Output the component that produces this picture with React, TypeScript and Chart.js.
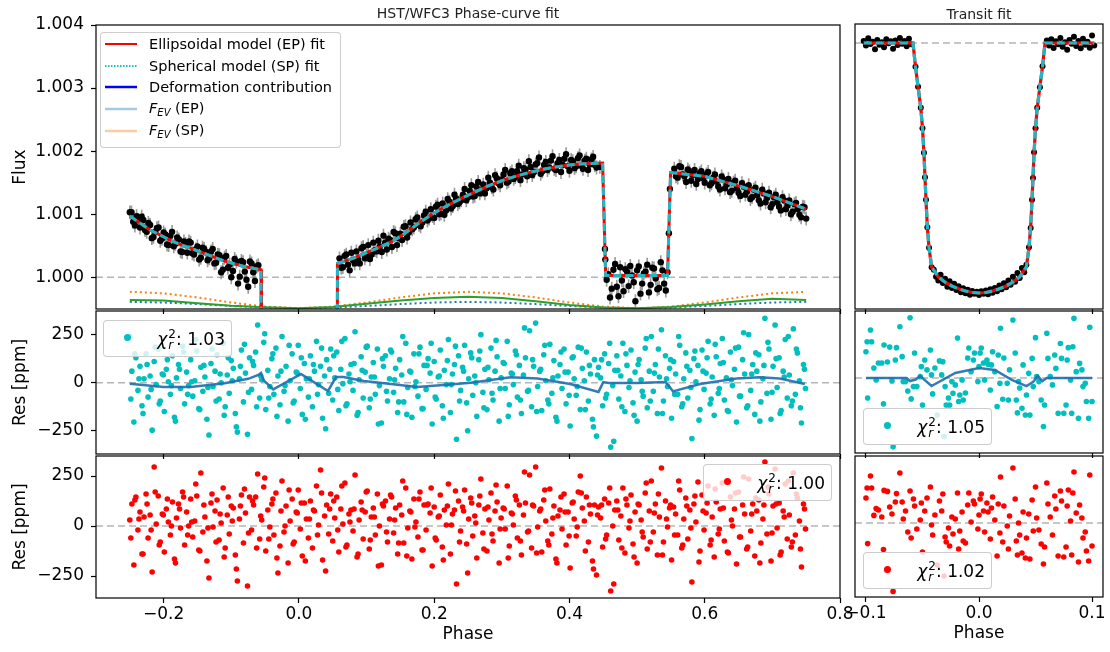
import React, { useEffect, useRef } from "react";
import { Chart, registerables } from "chart.js";
Chart.register(...registerables);

const W = 1110;
const H = 652;
const FONT = "'DejaVu Sans', Verdana, sans-serif";

// ---------- Top-left: phase-curve flux ----------
const FLUX_PHASE = [
  -0.25, -0.245, -0.24, -0.235, -0.23, -0.225, -0.22, -0.215, -0.21, -0.205,
  -0.2, -0.195, -0.19, -0.185, -0.18, -0.175, -0.17, -0.165, -0.16, -0.155,
  -0.15, -0.145, -0.14, -0.135, -0.13, -0.125, -0.12, -0.115, -0.11, -0.105,
  -0.1, -0.095, -0.09, -0.085, -0.08, -0.075, -0.07, -0.065, -0.06,
  0.06, 0.065, 0.07, 0.075, 0.08, 0.085, 0.09, 0.095, 0.1, 0.105,
  0.11, 0.115, 0.12, 0.125, 0.13, 0.135, 0.14, 0.145, 0.15, 0.155,
  0.16, 0.165, 0.17, 0.175, 0.18, 0.185, 0.19, 0.195, 0.2, 0.205,
  0.21, 0.215, 0.22, 0.225, 0.23, 0.235, 0.24, 0.245, 0.25, 0.255,
  0.26, 0.265, 0.27, 0.275, 0.28, 0.285, 0.29, 0.295, 0.3, 0.305,
  0.31, 0.315, 0.32, 0.325, 0.33, 0.335, 0.34, 0.345, 0.35, 0.355,
  0.36, 0.365, 0.37, 0.375, 0.38, 0.385, 0.39, 0.395, 0.4, 0.405,
  0.41, 0.415, 0.42, 0.425, 0.43, 0.435, 0.44,
  0.445, 0.4525, 0.453,
  0.455, 0.46, 0.465, 0.47, 0.475, 0.48, 0.485, 0.49, 0.495, 0.5,
  0.505, 0.51, 0.515, 0.52, 0.525, 0.53, 0.535, 0.54, 0.545,
  0.547, 0.5485,
  0.555, 0.56, 0.565, 0.57, 0.575, 0.58, 0.585, 0.59, 0.595, 0.6,
  0.605, 0.61, 0.615, 0.62, 0.625, 0.63, 0.635, 0.64, 0.645, 0.65,
  0.655, 0.66, 0.665, 0.67, 0.675, 0.68, 0.685, 0.69, 0.695, 0.7,
  0.705, 0.71, 0.715, 0.72, 0.725, 0.73, 0.735, 0.74, 0.745, 0.75,
  -0.2475, -0.2425, -0.2375, -0.2325, -0.2275, -0.2225, -0.2175, -0.2125, -0.2075, -0.2025,
  -0.1975, -0.1925, -0.1875, -0.1825, -0.1775, -0.1725, -0.1675, -0.1625, -0.1575, -0.1525,
  -0.1475, -0.1425, -0.1375, -0.1325, -0.1275, -0.1225, -0.1175, -0.1125, -0.1075, -0.1025,
  -0.0975, -0.0925, -0.0875, -0.0825, -0.0775, -0.0725, -0.0675, -0.0625,
  0.0625, 0.0675, 0.0725, 0.0775, 0.0825, 0.0875, 0.0925, 0.0975, 0.1025, 0.1075,
  0.1125, 0.1175, 0.1225, 0.1275, 0.1325, 0.1375, 0.1425, 0.1475, 0.1525, 0.1575,
  0.1625, 0.1675, 0.1725, 0.1775, 0.1825, 0.1875, 0.1925, 0.1975, 0.2025, 0.2075,
  0.2125, 0.2175, 0.2225, 0.2275, 0.2325, 0.2375, 0.2425, 0.2475, 0.2525, 0.2575,
  0.2625, 0.2675, 0.2725, 0.2775, 0.2825, 0.2875, 0.2925, 0.2975, 0.3025, 0.3075,
  0.3125, 0.3175, 0.3225, 0.3275, 0.3325, 0.3375, 0.3425, 0.3475, 0.3525, 0.3575,
  0.3625, 0.3675, 0.3725, 0.3775, 0.3825, 0.3875, 0.3925, 0.3975, 0.4025, 0.4075,
  0.4125, 0.4175, 0.4225, 0.4275, 0.4325, 0.4375,
  0.4575, 0.4625, 0.4675, 0.4725, 0.4775, 0.4825, 0.4875, 0.4925, 0.4975, 0.5025,
  0.5075, 0.5125, 0.5175, 0.5225, 0.5275, 0.5325, 0.5375, 0.5425,
  0.5575, 0.5625, 0.5675, 0.5725, 0.5775, 0.5825, 0.5875, 0.5925, 0.5975, 0.6025,
  0.6075, 0.6125, 0.6175, 0.6225, 0.6275, 0.6325, 0.6375, 0.6425, 0.6475, 0.6525,
  0.6575, 0.6625, 0.6675, 0.6725, 0.6775, 0.6825, 0.6875, 0.6925, 0.6975, 0.7025,
  0.7075, 0.7125, 0.7175, 0.7225, 0.7275, 0.7325, 0.7375, 0.7425, 0.7475,
];
const FLUX = [
  1.00103, 1.00088, 1.00097, 1.00079, 1.00091, 1.00072, 1.00083, 1.00064, 1.00078, 1.00058,
  1.00071, 1.00052, 1.00066, 1.00049, 1.00063, 1.00041, 1.00057, 1.00039, 1.00055, 1.00036,
  1.00049, 1.00031, 1.00045, 1.00027, 1.00041, 1.00022, 1.00036, 1.00008, 1.00031, 1.00015,
  1.0, 1.00029, 0.9999, 1.00026, 1.00009, 0.99985, 1.00022, 0.99994, 1.00019,
  1.0003, 1.00016, 1.00036, 1.00011, 1.00027, 1.00041, 1.00022, 1.00048, 1.00035, 1.00029,
  1.00055, 1.00041, 1.00049, 1.00066, 1.00044, 1.00059, 1.00072, 1.00051, 1.00069, 1.0008,
  1.00063, 1.00087, 1.00079, 1.00095, 1.00081, 1.00098, 1.0009, 1.00108, 1.00094, 1.00115,
  1.00101, 1.00099, 1.00124, 1.00109, 1.00131, 1.00116, 1.00122, 1.0014, 1.00127, 1.00146,
  1.00129, 1.00151, 1.00138, 1.00133, 1.00158, 1.00143, 1.00162, 1.00149, 1.00155, 1.0017,
  1.00152, 1.00168, 1.00159, 1.00177, 1.00163, 1.00171, 1.00184, 1.00162, 1.00179, 1.0019,
  1.00168, 1.00183, 1.00174, 1.00192, 1.0017, 1.00186, 1.00178, 1.00195, 1.00169, 1.00184,
  1.00176, 1.00193, 1.00172, 1.00188, 1.00179, 1.00191, 1.00174,
  1.00175, 1.00045, 1.00028,
  0.99996, 0.99968, 1.00012, 0.99985, 1.00016, 0.99978, 1.00009, 1.00018, 0.99992, 1.00011,
  0.99974, 1.00006, 1.0002, 0.99988, 1.00014, 0.99981, 1.00024, 0.9999, 1.00008,
  1.0007, 1.0014,
  1.00172, 1.00158, 1.00175, 1.0016, 1.00171, 1.00153, 1.0017, 1.00156, 1.00168, 1.0015,
  1.00167, 1.00149, 1.00163, 1.00144, 1.0016, 1.00141, 1.00156, 1.00137, 1.00153, 1.00134,
  1.00149, 1.00131, 1.00146, 1.00127, 1.00142, 1.00122, 1.00139, 1.00119, 1.00134, 1.00116,
  1.00131, 1.00112, 1.00127, 1.00108, 1.00122, 1.00104, 1.00118, 1.00099, 1.00112, 1.00093,
  1.00103, 1.00082, 1.00091, 1.00096, 1.00075, 1.00086, 1.00062, 1.00072, 1.00079, 1.00061,
  1.00068, 1.00051, 1.00072, 1.00053, 1.0006, 1.0004, 1.00053, 1.00057, 1.00038, 1.00044,
  1.00028, 1.00047, 1.0004, 1.0003, 1.00045, 1.00023, 1.00035, 1.00012, 1.00034, 1.0002,
  1.0001, 1.00025, 1.00001, 1.00024, 0.99996, 1.00025, 1.00008, 1.00017,
  1.00015, 1.00034, 1.0002, 1.00039, 1.00022, 1.00028, 1.00046, 1.0003, 1.00051, 1.00036,
  1.00043, 1.00058, 1.0004, 1.00055, 1.00061, 1.00048, 1.0007, 1.00062, 1.00059, 1.00081,
  1.00071, 1.00076, 1.00092, 1.00083, 1.00087, 1.00104, 1.00093, 1.00097, 1.00112, 1.001,
  1.00117, 1.00106, 1.0012, 1.00113, 1.00125, 1.00119, 1.00131, 1.00122, 1.00137, 1.00128,
  1.00144, 1.00133, 1.00147, 1.00141, 1.0015, 1.00139, 1.00157, 1.00146, 1.00163, 1.0015,
  1.00165, 1.00156, 1.00168, 1.00154, 1.00173, 1.0016, 1.00175, 1.00167, 1.00181, 1.00164,
  1.00178, 1.0017, 1.00185, 1.00172, 1.00181, 1.00167, 1.00188, 1.00176, 1.00186, 1.00173,
  1.00189, 1.00177, 1.00185, 1.0017, 1.00187, 1.00178,
  1.00005, 0.99982, 1.00021, 0.9997, 0.99995, 1.00013, 0.99986, 1.00003, 0.99962, 1.00017,
  0.9999, 1.00009, 0.99976, 1.00015, 0.99998, 0.99983, 1.00011, 0.99979,
  1.0016, 1.00176, 1.00163, 1.00151, 1.00168, 1.00162, 1.00148, 1.00165, 1.00157, 1.00163,
  1.00146, 1.00158, 1.00152, 1.00139, 1.00155, 1.00147, 1.00135, 1.0015, 1.00141, 1.00129,
  1.00144, 1.00136, 1.00124, 1.00139, 1.0013, 1.00117, 1.00133, 1.00126, 1.00111, 1.00127,
  1.00119, 1.00106, 1.00122, 1.00114, 1.001, 1.00116, 1.00108, 1.00095, 1.00111,
];
const FLUX_ERR = 0.00011;

const MODEL_PHASE = [
  -0.25, -0.22, -0.185, -0.145, -0.111, -0.081, -0.056, -0.0552, 0.0552, 0.057,
  0.08, 0.1, 0.12, 0.14, 0.16, 0.18, 0.2, 0.22, 0.24, 0.26,
  0.28, 0.3, 0.32, 0.34, 0.36, 0.38, 0.4, 0.42, 0.449, 0.4535,
  0.545, 0.5495, 0.6, 0.65, 0.7, 0.75,
];
const MODEL_EP = [
  1.00097, 1.00075, 1.00056, 1.0004, 1.00026, 1.00017, 1.00012, 0.99, 0.99, 1.00022,
  1.0003, 1.00039, 1.00048, 1.00058, 1.00072, 1.00088, 1.00102, 1.00114, 1.00125, 1.00135,
  1.00145, 1.00153, 1.0016, 1.00166, 1.00171, 1.00175, 1.00178, 1.0018, 1.00181, 1.00003,
  1.00003, 1.00166, 1.0016, 1.00145, 1.00128, 1.00108,
];
const MODEL_SP = [
  1.00097, 1.00075, 1.00056, 1.0004, 1.00026, 1.00017, 1.00012, 0.99, 0.99, 1.00022,
  1.0003, 1.00039, 1.00048, 1.00058, 1.00072, 1.00088, 1.00102, 1.00114, 1.00125, 1.00135,
  1.00145, 1.00153, 1.0016, 1.00166, 1.00171, 1.00175, 1.00178, 1.0018, 1.00181, 1.00003,
  1.00003, 1.00166, 1.0016, 1.00145, 1.00128, 1.00108,
];

const EV_PHASE = [-0.25, -0.2, -0.15, -0.1, -0.05, 0, 0.05, 0.1, 0.15, 0.2, 0.25, 0.3, 0.35, 0.4, 0.45, 0.5, 0.55, 0.6, 0.65, 0.7, 0.75];
const DEFORM = [0.99964, 0.99963, 0.99959, 0.99955, 0.999525, 0.99951, 0.99953, 0.99958, 0.99963, 0.99967, 0.99969, 0.99967, 0.99962, 0.99956, 0.99952, 0.99951, 0.99953, 0.99957, 0.99962, 0.99966, 0.99964];
const FEV_SP = [0.99977, 0.999745, 0.99968, 0.9996, 0.999535, 0.99951, 0.999535, 0.9996, 0.99968, 0.999745, 0.99977, 0.999745, 0.99968, 0.9996, 0.999535, 0.99951, 0.999535, 0.9996, 0.99968, 0.999745, 0.99977];
const FEV_EP = [0.99961, 0.9996, 0.999575, 0.999545, 0.99952, 0.99951, 0.99952, 0.999545, 0.999575, 0.9996, 0.99961, 0.9996, 0.999575, 0.999545, 0.99952, 0.99951, 0.99952, 0.999545, 0.999575, 0.9996, 0.99961];

// ---------- Left residuals ----------
const RES_PHASE = [
  -.25, -.247, -.244, -.241, -.238, -.235, -.232, -.229, -.226, -.223,
  -.22, -.217, -.214, -.211, -.208, -.205, -.202, -.199, -.196, -.193,
  -.19, -.187, -.184, -.181, -.178, -.175, -.172, -.169, -.166, -.163,
  -.16, -.157, -.154, -.151, -.148, -.145, -.142, -.139, -.136, -.133,
  -.13, -.127, -.124, -.121, -.118, -.115, -.112, -.109, -.106, -.103,
  -.1, -.097, -.094, -.091, -.088, -.085, -.082, -.079, -.076, -.073,
  -.07, -.067, -.064, -.061, -.058, -.055, -.052, -.049, -.046, -.043,
  -.04, -.037, -.034, -.031, -.028, -.025, -.022, -.019, -.016, -.013,
  -.01, -.007, -.004, -.001, .002, .005, .008, .011, .014, .017,
  .02, .023, .026, .029, .032, .035, .038, .041, .044, .047,
  .05, .053, .056, .059, .062, .065, .068, .071, .074, .077,
  .08, .083, .086, .089, .092, .095, .098, .101, .104, .107,
  .11, .113, .116, .119, .122, .125, .128, .131, .134, .137,
  .14, .143, .146, .149, .152, .155, .158, .161, .164, .167,
  .17, .173, .176, .179, .182, .185, .188, .191, .194, .197,
  .2, .203, .206, .209, .212, .215, .218, .221, .224, .227,
  .23, .233, .236, .239, .242, .245, .248, .251, .254, .257,
  .26, .263, .266, .269, .272, .275, .278, .281, .284, .287,
  .29, .293, .296, .299, .302, .305, .308, .311, .314, .317,
  .32, .323, .326, .329, .332, .335, .338, .341, .344, .347,
  .35, .353, .356, .359, .362, .365, .368, .371, .374, .377,
  .38, .383, .386, .389, .392, .395, .398, .401, .404, .407,
  .41, .413, .416, .419, .422, .425, .428, .431, .434, .437,
  .44, .443, .446, .449, .452, .455, .458, .461, .464, .467,
  .47, .473, .476, .479, .482, .485, .488, .491, .494, .497,
  .5, .503, .506, .509, .512, .515, .518, .521, .524, .527,
  .53, .533, .536, .539, .542, .545, .548, .551, .554, .557,
  .56, .563, .566, .569, .572, .575, .578, .581, .584, .587,
  .59, .593, .596, .599, .602, .605, .608, .611, .614, .617,
  .62, .623, .626, .629, .632, .635, .638, .641, .644, .647,
  .65, .653, .656, .659, .662, .665, .668, .671, .674, .677,
  .68, .683, .686, .689, .692, .695, .698, .701, .704, .707,
  .71, .713, .716, .719, .722, .725, .728, .731, .734, .737,
  .74, .743, .746, .749,
  -.2485, -.2425, -.2365, -.2305, -.2245, -.2185, -.2125, -.2065, -.2005, -.1945,
  -.1885, -.1825, -.1765, -.1705, -.1645, -.1585, -.1525, -.1465, -.1405, -.1345,
  -.1285, -.1225, -.1165, -.1105, -.1045, -.0985, -.0925, -.0865, -.0805, -.0745,
  -.0685, -.0625, -.0565, -.0505, -.0445, -.0385, -.0325, -.0265, -.0205, -.0145,
  -.0085, -.0025, .0035, .0095, .0155, .0215, .0275, .0335, .0395, .0455,
  .0515, .0575, .0635, .0695, .0755, .0815, .0875, .0935, .0995, .1055,
  .1115, .1175, .1235, .1295, .1355, .1415, .1475, .1535, .1595, .1655,
  .1715, .1775, .1835, .1895, .1955, .2015, .2075, .2135, .2195, .2255,
  .2315, .2375, .2435, .2495, .2555, .2615, .2675, .2735, .2795, .2855,
  .2915, .2975, .3035, .3095, .3155, .3215, .3275, .3335, .3395, .3455,
  .3515, .3575, .3635, .3695, .3755, .3815, .3875, .3935, .3995, .4055,
  .4115, .4175, .4235, .4295, .4355, .4415, .4475, .4535, .4595, .4655,
  .4715, .4775, .4835, .4895, .4955, .5015, .5075, .5135, .5195, .5255,
  .5315, .5375, .5435, .5495, .5555, .5615, .5675, .5735, .5795, .5855,
  .5915, .5975, .6035, .6095, .6155, .6215, .6275, .6335, .6395, .6455,
  .6515, .6575, .6635, .6695, .6755, .6815, .6875, .6935, .6995, .7055,
  .7115, .7175, .7235, .7295, .7355, .7415, .7475,
];
const RES_SP = [
  240, 60, -205, 130, -40, 85, -120, 20, 150, -75,
  35, -247, 110, -10, 175, -95, 45, -150, 70, 5,
  -60, 140, -180, 25, 95, -30, 190, -110, 55, -15,
  120, -70, 10, 165, -135, 80, -45, 30, -190, -272,
  100, -20, 60, 145, -85, 0, 205, -125, 40, -55,
  115, 75, -160, -257, 20, 170, -100, 50, -268, 130,
  -35, 90, 160, 300, -80, 15, 210, -140, 65, -20,
  125, -60, 180, 35, -115, 240, -45, 85, -200, 10,
  150, -95, 55, 195, -30, -165, 100, 20, -75, 140,
  -125, 60, 215, -10, 85, -185, 35, 120, -55, 175,
  -90, 25, 160, -145, 70, -5, 230, -110, 45, 95,
  -40, 265, -170, 15, 135, -80, 55, 190, -130, 30,
  105, -60, 175, -15, -210, 85, 140, -95, 20, 160,
  -50, 75, -155, 120, 40, -100, 205, -25, 60, -180,
  150, 5, -70, 185, -135, 90, -35, 125, 50, -215,
  110, -85, 30, 170, -120, 65, -10, 225, -155, 45,
  95, -294, 140, -40, 80, 195, -105, 20, 155, -65,
  35, -175, 120, 250, -50, 70, -140, 15, 180, -90,
  60, 135, -200, 25, 105, -30, 215, -115, 50, -10,
  165, -75, 90, -160, 40, 130, -45, 270, -125, 85,
  310, -20, 60, -145, 145, 10, -90, 200, -55, 115,
  -180, 35, 95, -30, 175, -110, 55, -225, 130, 20,
  -65, 185, -140, 75, 10, 160, -95, 45, -190, 120,
  -278, 80, 25, -120, 150, -60, 100, -335, -15, 65,
  140, -85, 35, 205, -150, 90, -25, 170, -105, 55,
  -200, 120, 15, -70, 180, -130, 60, 240, -45, 95,
  -160, 30, 275, -95, 140, -20, 75, -185, 110, 45,
  -60, 195, -125, 20, 155, -80, 65, -290, 125, 5,
  90, -140, 170, -35, 50, 215, -110, 30, -170, 135,
  -55, 100, 230, -90, 25, -150, 160, -15, 70, -205,
  185, -70, 120, 45, -130, 250, -40, 95, -165, 60,
  145, -100, 20, 335, -55, 175, -190, 85, 300, -25,
  130, -145, 60, 225, -80, 40, -120, 280, -60, 155,
  10, -210, 95, -30,
  -85, 150, 20, -160, 95, -35, 185, -110, 40, 120,
  -15, -200, 70, 160, -60, 5, 225, -140, 90, -25,
  175, -95, 45, -170, 130, 10, -230, 85, 200, -50,
  110, -125, 35, 255, -80, 150, -175, 60, -15, 195,
  -105, 50, 130, -190, 20, 95, -60, 180, -240, 70,
  140, -35, 215, -120, 5, 100, -155, 65, 185, -85,
  30, -215, 125, -45, 170, 15, -100, 240, -165, 55,
  -20, 150, -135, 90, 205, -75, 35, -185, 115, -10,
  190, -95, 60, -250, 130, 0, 165, -130, 80, -55,
  220, -30, 100, -175, 45, 145, -90, 285, -40, 120,
  -150, 70, 195, -110, 25, -200, 160, 55, -65, 135,
  -20, 180, -140, 90, -230, 40, 120, -80, 205, -305,
  65, -125, 150, 10, -170, 95, -45, 230, -95, 50,
  175, -160, 20, 120, -60, 240, -110, 85, -25, 165,
  -195, 60, 130, -85, 200, -30, 105, -145, 15, 180,
  -70, 260, -120, 45, 155, -200, 90, 210, -50, 125,
  -160, 30, 240, -95, 175, -130, 70,
];
const RES_EP = [
  30, 110, -195, 145, -20, 70, -140, 45, 160, -60,
  55, -230, 295, 10, 150, -80, 60, -130, 85, 20,
  -45, 120, -165, 40, 110, -10, 170, -95, 70, 0,
  135, -55, 25, 150, -120, 265, -30, 45, -175, -260,
  115, -5, 75, 130, -70, 15, 190, -110, 55, -40,
  100, 90, -145, -275, 35, 155, -85, 65, -300, 145,
  -20, 105, 145, 260, -65, 30, 195, -125, 80, -5,
  110, -45, 165, -235, -100, 225, -30, 100, -185, 25,
  135, -80, 70, 180, -15, -150, 115, 35, -60, 125,
  -110, 75, 200, 5, 280, -170, 50, 105, -40, 160,
  -75, 40, 145, -130, 85, 10, 215, -95, 60, 80,
  -25, 255, -155, 30, 120, -65, 70, 175, -115, 45,
  90, -45, 160, 0, -195, 100, 125, -80, 35, 145,
  -35, 90, -140, 105, 55, -85, 190, -10, 75, -165,
  135, 20, -55, 170, -120, 105, -20, 110, 65, -200,
  95, -70, 45, 155, -105, 80, 5, 210, -140, 60,
  80, -290, 125, -25, 95, 180, -90, 35, 140, -50,
  50, -160, 105, 235, -35, 85, -125, 30, 165, -75,
  75, 120, -185, 40, 90, -15, 200, -100, 65, 5,
  150, -60, 105, -145, 55, 115, -30, 255, -110, 100,
  295, -5, 75, -130, 130, 25, -75, 185, -40, 100,
  -165, 50, 80, -15, 160, -95, 70, -210, 115, 35,
  -50, 170, 250, 90, 25, 145, -80, 60, -175, 105,
  -245, 95, 40, -105, 135, -45, 115, -325, 0, 80,
  125, -70, 50, 190, -135, 105, -10, 155, -90, 70,
  -185, 105, 30, -55, 165, -115, 75, 225, -30, 110,
  -145, 45, 290, -80, 125, -5, 90, -170, 95, 60,
  -45, 180, -110, 35, 140, -65, 80, -280, 110, 20,
  220, -125, 155, -20, 65, 200, -95, 45, -155, 120,
  -40, 85, 215, -75, 220, -135, 145, 0, 85, -190,
  170, -55, 105, 60, -115, 235, -25, 110, -150, 75,
  130, -85, 35, 320, -40, 160, -175, 100, 285, -10,
  115, -130, 75, 210, -65, 55, -105, 265, -45, 140,
  25, -205, 110, -15,
  -60, 130, 35, -140, 110, -20, 170, -95, 55, 135,
  0, -185, 85, 145, -45, 20, 210, -125, 105, -10,
  160, -80, 60, -155, 145, 25, -215, 100, 185, -35,
  125, -110, 50, 240, -65, 135, -160, 75, 0, 180,
  -90, 65, 115, -175, 35, 80, -45, 165, -225, 85,
  125, -20, 200, -105, 20, 85, -140, 80, 170, -70,
  45, -200, 110, -30, 155, 30, -85, 225, -150, 70,
  -5, 135, -120, 105, 190, -60, 50, -170, 100, 5,
  175, -80, 75, -235, 115, 15, 150, -115, 95, -40,
  205, -15, 85, -160, 60, 130, -75, 270, -25, 105,
  -135, 85, 180, -95, 40, -185, 145, 70, -50, 120,
  -5, 165, -125, 105, -215, 55, 105, -65, 190, -290,
  80, -110, 135, 25, -155, 110, -30, 215, -80, 65,
  160, -145, 35, 105, -45, 225, -95, 100, -10, 150,
  -180, 75, 115, -70, 185, -15, 90, -130, 30, 165,
  -55, 245, -105, 60, 140, -185, 105, 195, -35, 110,
  -145, 45, 225, -80, 160, -115, 85,
];
const SYS_PHASE = [-0.25, -0.2, -0.16, -0.11, -0.075, -0.06, -0.056, -0.052, -0.038, -0.015, 0.003, 0.018, 0.043, 0.055, 0.066, 0.096, 0.136, 0.175, 0.214, 0.254, 0.313, 0.353, 0.401, 0.443, 0.45, 0.458, 0.5, 0.542, 0.546, 0.553, 0.593, 0.647, 0.681, 0.711, 0.748];
const SYS_SP = [-5, -22, -22, -3, 20, 40, 50, 12, -35, 10, 45, 12, -43, 30, 30, 9, -7, -22, -12, 0, 28, 22, -7, -48, 3, -2, -2, 3, -12, -45, -7, 22, 28, 22, -7];

// ---------- Right: transit ----------
const TRF_PHASE = [
  -0.102, -0.1, -0.098, -0.096, -0.094, -0.092, -0.09, -0.088, -0.086, -0.084, -0.082,
  -0.08, -0.078, -0.076, -0.074, -0.072, -0.07, -0.068, -0.066, -0.064, -0.062, -0.06,
  -0.0562, -0.0539, -0.0515, -0.05, -0.0487, -0.0478, -0.0469, -0.0457, -0.0442, -0.0419,
  -0.04, -0.038, -0.036, -0.034, -0.032, -0.03, -0.028, -0.026, -0.024, -0.022,
  -0.02, -0.018, -0.016, -0.014, -0.012, -0.01, -0.008, -0.006, -0.004, -0.002,
  0, 0.002, 0.004, 0.006, 0.008, 0.01, 0.012, 0.014, 0.016, 0.018,
  0.02, 0.022, 0.024, 0.026, 0.028, 0.03, 0.032, 0.034, 0.036, 0.038, 0.04,
  0.0419, 0.0442, 0.0457, 0.0469, 0.0478, 0.0487, 0.05, 0.0515, 0.0539, 0.0562,
  0.06, 0.062, 0.064, 0.066, 0.068, 0.07, 0.072, 0.074, 0.076, 0.078, 0.08,
  0.082, 0.084, 0.086, 0.088, 0.09, 0.092, 0.094, 0.096, 0.098, 0.1, 0.102,
];
const TRF_FLUX = [
  1.00012, 0.99985, 1.00028, 0.99994, 1.00008, 0.99962, 1.00018, 0.9999, 1.00004, 0.99975, 1.00022,
  0.99998, 1.0001, 0.99966, 1.00015, 0.99988, 1.0003, 0.99995, 1.00012, 0.9998, 1.00025, 0.99992,
  0.99858, 0.99738, 0.99612, 0.99488, 0.99342, 0.99195, 0.9906, 0.98895, 0.98772, 0.98655,
  0.9864, 0.98598, 0.98575, 0.9861, 0.9856, 0.98585, 0.98538, 0.9857, 0.9853, 0.98555,
  0.98518, 0.9854, 0.98505, 0.98528, 0.98498, 0.9852, 0.9849, 0.98512, 0.98495, 0.98508,
  0.98488, 0.9851, 0.98496, 0.98515, 0.98492, 0.98522, 0.98502, 0.9853, 0.9851, 0.98545,
  0.98522, 0.98558, 0.98535, 0.98575, 0.9855, 0.98598, 0.98568, 0.9862, 0.9859, 0.9865, 0.98625,
  0.9867, 0.98775, 0.9889, 0.9906, 0.9919, 0.99345, 0.99488, 0.99612, 0.99735, 0.9986,
  1.00015, 0.99985, 1.00022, 0.9997, 1.0001, 0.99992, 1.0003, 0.99978, 1.00005, 0.9996, 1.00018,
  0.99995, 1.00038, 0.99982, 1.00012, 0.99968, 1.00025, 0.9999, 1.00008, 0.99972, 1.00045, 0.99985,
];
const TM_PHASE = [-0.102, -0.0584, -0.0562, -0.0539, -0.0515, -0.05, -0.0487, -0.0478, -0.0469, -0.0457, -0.0442, -0.0419, -0.036, -0.03, -0.024, -0.018, -0.012, -0.006, 0, 0.006, 0.012, 0.018, 0.024, 0.03, 0.036, 0.0419, 0.0442, 0.0457, 0.0469, 0.0478, 0.0487, 0.05, 0.0515, 0.0539, 0.0562, 0.0584, 0.102];
const TM_EP = [1, 1, 0.99858, 0.99738, 0.9961, 0.9949, 0.9934, 0.99196, 0.99058, 0.98896, 0.9877, 0.98656, 0.98596, 0.98565, 0.98542, 0.98525, 0.98512, 0.98503, 0.985, 0.98503, 0.98512, 0.98525, 0.98542, 0.98565, 0.98596, 0.98656, 0.9877, 0.98896, 0.99058, 0.99196, 0.9934, 0.9949, 0.9961, 0.99738, 0.99858, 1, 1];
const TM_SP = [1, 1, 0.99858, 0.99738, 0.9961, 0.9949, 0.9934, 0.99196, 0.99058, 0.98896, 0.9877, 0.98656, 0.98596, 0.98565, 0.98542, 0.98525, 0.98512, 0.98503, 0.985, 0.98503, 0.98512, 0.98525, 0.98542, 0.98565, 0.98596, 0.98656, 0.9877, 0.98896, 0.99058, 0.99196, 0.9934, 0.9949, 0.9961, 0.99738, 0.99858, 1, 1];

const TR_PHASE = [
  -0.1, -0.099, -0.0985, -0.096, -0.095, -0.093, -0.091, -0.089, -0.086, -0.0845,
  -0.084, -0.082, -0.081, -0.079, -0.077, -0.076, -0.074, -0.073, -0.07, -0.068,
  -0.067, -0.065, -0.063, -0.061, -0.06, -0.058, -0.057, -0.055, -0.052, -0.051,
  -0.05, -0.048, -0.046, -0.043, -0.042, -0.041, -0.039, -0.037, -0.035, -0.033,
  -0.032, -0.031, -0.03, -0.029, -0.027, -0.026, -0.024, -0.023, -0.021, -0.019,
  -0.018, -0.017, -0.015, -0.014, -0.012, -0.01, -0.009, -0.007, -0.005, -0.004,
  -0.001, 0, 0.001, 0.002, 0.004, 0.005, 0.007, 0.008, 0.01, 0.011,
  0.012, 0.014, 0.016, 0.017, 0.0185, 0.019, 0.021, 0.022, 0.025, 0.026,
  0.027, 0.03, 0.032, 0.033, 0.034, 0.035, 0.036, 0.038, 0.039, 0.041,
  0.042, 0.044, 0.045, 0.047, 0.048, 0.05, 0.051, 0.053, 0.055, 0.057,
  0.058, 0.06, 0.061, 0.063, 0.065, 0.067, 0.068, 0.07, 0.072, 0.073,
  0.075, 0.077, 0.078, 0.079, 0.081, 0.082, 0.083, 0.084, 0.086, 0.088,
  0.089, 0.091, 0.092, 0.094, 0.095, 0.097, 0.098, 0.1,
];
const TR_RES_SP = [
  137, 189, -104, 250, 189, 52, -10, 78, 78, -135,
  172, -245, 83, 161, -16, -359, 94, 158, 267, 111,
  -19, -19, -68, 314, -109, -45, 130, -45, 7, 59,
  -141, 94, 42, 146, 16, -83, 52, -193, 89, 16,
  85, -305, -45, -141, -104, -141, -19, -80, -36, 208,
  -123, -89, -10, -115, -78, 104, 156, 33, 94, 130,
  -19, 59, 130, 156, 78, -10, 94, 71, -63, 68,
  137, 33, -149, 120, -28, 259, -111, 104, -28, -115,
  42, 302, 130, -115, -182, -19, -52, -158, 68, -193,
  -89, 24, -193, 102, -45, 210, 7, -19, -115, -253,
  -141, 233, 102, 7, -36, 120, 50, -184, 180, 102,
  -184, -141, 94, 158, -10, -184, 163, 311, 33, -210,
  76, 42, -45, -28, -123, -210, 264, -123,
];
const TR_RES_EP = [
  125, 175, -103, 235, 175, 38, 72, 65, 30, -133,
  163, -237, 158, 80, 45, -342, 105, 147, 250, 105,
  20, 60, -45, 160, -75, 120, 85, -30, 15, 100,
  -145, 60, 125, 180, -10, -60, 40, -210, 110, 60,
  145, -265, -70, -95, -25, -115, 30, -55, 20, 150,
  -130, -40, 55, -90, -100, 90, 150, 5, 110, 95,
  -30, 40, 120, 145, 60, -45, 100, 55, -80, 75,
  130, 15, -165, 95, -50, 230, -95, 85, -15, -130,
  35, 275, 120, -90, -160, 0, -60, -150, 55, -175,
  -75, 45, -180, 115, -40, 180, 25, -35, -105, -205,
  -120, 200, 95, 30, -60, 135, 70, -165, 160, 110,
  -170, -120, 85, 165, 10, -160, 150, 255, 50, -195,
  90, 25, -75, -45, -140, -190, 240, -115,
];
const TR_SYS_PHASE = [-0.1, -0.064, -0.061, -0.056, -0.052, -0.042, -0.021, 0, 0.014, 0.029, 0.042, 0.048, 0.052, 0.056, 0.06, 0.1];
const TR_SYS = [0, 0, -16, -8, 10, -42, 26, 52, 42, -10, -42, -20, 10, -16, 0, 0];

// ---------- Axis ticks / ranges ----------
const X_LEFT_TICKS = [-0.2, 0, 0.2, 0.4, 0.6, 0.8];
const X_RIGHT_TICKS = [-0.1, 0, 0.1];
const FLUX_TICKS = [1.0, 1.001, 1.002, 1.003, 1.004];
const RES_TICKS = [-250, 0, 250];

const TICK_FONT = { family: FONT, size: 17 };
const LABEL_FONT = { family: FONT, size: 17 };

const fmt = (v: number, d: number) => {
  const s = Number(v).toFixed(d);
  return s.startsWith("-") ? "\u2212" + s.slice(1) : s;
};
const pts = (xs: number[], ys: number[]) => xs.map((x, i) => ({ x, y: ys[i] }));

type Box = { l: number; t: number; r: number; b: number };
type Ax = { min: number; max: number; ticks?: number[]; dec?: number; labels?: boolean; title?: string; show?: boolean };

function framePlugin(refY: number | null, err: boolean) {
  return {
    id: "frame",
    beforeDatasetsDraw(chart: any) {
      const { ctx, chartArea: ca, scales } = chart;
      ctx.save();
      ctx.beginPath();
      ctx.rect(ca.left, ca.top, ca.right - ca.left, ca.bottom - ca.top);
      ctx.clip();
      if (refY !== null) {
        const y = scales.y.getPixelForValue(refY);
        ctx.strokeStyle = "#b5b5b5";
        ctx.lineWidth = 1.6;
        ctx.setLineDash([7, 4]);
        ctx.beginPath();
        ctx.moveTo(ca.left, y);
        ctx.lineTo(ca.right, y);
        ctx.stroke();
        ctx.setLineDash([]);
      }
      if (err) {
        ctx.strokeStyle = "rgba(120,120,120,0.75)";
        ctx.lineWidth = 1.6;
        ctx.beginPath();
        FLUX_PHASE.forEach((p, i) => {
          const px = scales.x.getPixelForValue(p);
          ctx.moveTo(px, scales.y.getPixelForValue(FLUX[i] - FLUX_ERR));
          ctx.lineTo(px, scales.y.getPixelForValue(FLUX[i] + FLUX_ERR));
        });
        ctx.stroke();
      }
      ctx.restore();
    },
    afterDraw(chart: any) {
      const { ctx, chartArea: ca } = chart;
      ctx.save();
      ctx.strokeStyle = "#000";
      ctx.lineWidth = 1.2;
      ctx.strokeRect(ca.left, ca.top, ca.right - ca.left, ca.bottom - ca.top);
      ctx.restore();
    },
  };
}

function makeConfig(box: Box, xa: Ax, ya: Ax, datasets: any[], refY: number | null, err = false) {
  const XH = xa.labels ? 50 : 5;
  const YW = ya.show ? box.l - 4 : 0;
  const tickGrid = { drawOnChartArea: false, drawTicks: true, tickLength: 5, tickWidth: 1.2, tickColor: "#000", color: "#000" };
  return {
    type: "scatter",
    data: { datasets },
    options: {
      responsive: false,
      animation: false,
      events: [],
      layout: { autoPadding: false, padding: { left: box.l - YW, top: box.t, right: W - box.r, bottom: H - box.b - XH } },
      plugins: { legend: { display: false }, tooltip: { enabled: false } },
      scales: {
        x: {
          type: "linear",
          min: xa.min,
          max: xa.max,
          afterBuildTicks: (s: any) => { s.ticks = (xa.ticks || []).map((v) => ({ value: v })); },
          afterFit: (s: any) => { s.height = XH; },
          grid: tickGrid,
          border: { display: false },
          ticks: { display: !!xa.labels, font: TICK_FONT, color: "#000", padding: 1, maxRotation: 0, autoSkip: false, callback: (v: number) => fmt(v, xa.dec ?? 1) },
          title: { display: !!xa.title, text: xa.title || "", font: LABEL_FONT, color: "#000", padding: { top: 0, bottom: 3 } },
        },
        y: {
          type: "linear",
          display: !!ya.show,
          min: ya.min,
          max: ya.max,
          afterBuildTicks: (s: any) => { s.ticks = (ya.ticks || []).map((v) => ({ value: v })); },
          afterFit: (s: any) => { s.width = YW; },
          grid: tickGrid,
          border: { display: false },
          ticks: { font: TICK_FONT, color: "#000", padding: 7, autoSkip: false, callback: (v: number) => fmt(v, ya.dec ?? 0) },
          title: { display: !!ya.title, text: ya.title || "", font: LABEL_FONT, color: "#000", padding: { top: 6, bottom: 0 } },
        },
      },
    },
    plugins: [framePlugin(refY, err)],
  };
}

const lineDs = (xs: number[], ys: number[], color: string, width: number, dash: number[] = []) => ({
  data: pts(xs, ys), showLine: true, pointRadius: 0, borderColor: color, borderWidth: width, borderDash: dash, fill: false, tension: 0,
});
const dotDs = (xs: number[], ys: number[], color: string, r: number) => ({
  data: pts(xs, ys), showLine: false, pointRadius: r, pointBackgroundColor: color, pointBorderWidth: 0, pointBorderColor: color,
});

const CYAN = "#00bfbf";
const SPLINE = "#1cb8c4";
const RED = "#ff0000";
const SYSC = "rgba(31,110,175,0.9)";

const LEFT_X = { min: -0.3, max: 0.8, ticks: X_LEFT_TICKS, dec: 1 };
const RIGHT_X = { min: -0.1097, max: 0.1097, ticks: X_RIGHT_TICKS, dec: 1 };

const configs = [
  () => makeConfig({ l: 96, t: 25, r: 840, b: 309 }, LEFT_X, { min: 0.999497, max: 1.004, ticks: FLUX_TICKS, dec: 3, show: true, title: "Flux" }, [
    lineDs(MODEL_PHASE, MODEL_SP, SPLINE, 3, [8, 4]),
    lineDs(MODEL_PHASE, MODEL_EP, RED, 3),
    lineDs(EV_PHASE, DEFORM, "#2ca02c", 2),
    lineDs(EV_PHASE, FEV_SP, "#ff7f0e", 2, [2, 3]),
    lineDs(EV_PHASE, FEV_EP, "#1f77b4", 2, [2, 3]),
    dotDs(FLUX_PHASE, FLUX, "#000", 3.2),
  ], 1.0, true),
  () => makeConfig({ l: 96, t: 311, r: 840, b: 454 }, LEFT_X, { min: -371, max: 373, ticks: RES_TICKS, dec: 0, show: true, title: "Res [ppm]" }, [
    lineDs(SYS_PHASE, SYS_SP, SYSC, 2.5),
    dotDs(RES_PHASE, RES_SP, CYAN, 2.8),
  ], 0),
  () => makeConfig({ l: 96, t: 456, r: 840, b: 598 }, { ...LEFT_X, labels: true, title: "Phase" }, { min: -360, max: 350, ticks: RES_TICKS, dec: 0, show: true, title: "Res [ppm]" }, [
    dotDs(RES_PHASE, RES_EP, RED, 2.8),
  ], 0),
  () => makeConfig({ l: 855, t: 24, r: 1103, b: 309 }, RIGHT_X, { min: 0.98404, max: 1.00114 }, [
    lineDs(TM_PHASE, TM_SP, SPLINE, 3.2, [8, 4]),
    lineDs(TM_PHASE, TM_EP, RED, 3.2),
    dotDs(TRF_PHASE, TRF_FLUX, "#000", 3),
  ], 1.0),
  () => makeConfig({ l: 855, t: 311, r: 1103, b: 453 }, RIGHT_X, { min: -391, max: 349 }, [
    lineDs(TR_SYS_PHASE, TR_SYS, SYSC, 2.5),
    dotDs(TR_PHASE, TR_RES_SP, CYAN, 2.8),
  ], 0),
  () => makeConfig({ l: 855, t: 456, r: 1103, b: 597 }, { ...RIGHT_X, labels: true, title: "Phase" }, { min: -370, max: 335 }, [
    dotDs(TR_PHASE, TR_RES_EP, RED, 2.8),
  ], 0),
];

function ChartCanvas({ make }: { make: () => any }) {
  const ref = useRef<HTMLCanvasElement>(null);
  useEffect(() => {
    const c = new Chart(ref.current as HTMLCanvasElement, make());
    return () => c.destroy();
  }, []);
  return <canvas ref={ref} width={W} height={H} style={{ position: "absolute", left: 0, top: 0, width: W, height: H }} />;
}

const boxStyle = (l: number, t: number, w: number, h: number): React.CSSProperties => ({
  position: "absolute", left: l, top: t, width: w, height: h, boxSizing: "border-box",
  background: "rgba(255,255,255,0.8)", border: "1px solid rgba(200,200,200,0.9)", borderRadius: 4,
  fontFamily: FONT, color: "#000",
});

function Chi({ l, t, color, value }: { l: number; t: number; color: string; value: string }) {
  return (
    <div style={boxStyle(l, t, 129, 37)}>
      <div style={{ position: "absolute", left: 20, top: 13, width: 7, height: 7, borderRadius: "50%", background: color }} />
      <div style={{ position: "absolute", right: 6, top: 0, height: 35, display: "flex", alignItems: "center", fontSize: 17, whiteSpace: "nowrap" }}>
        <span style={{ fontStyle: "italic" }}>χ</span>
        <span style={{ display: "inline-flex", flexDirection: "column", fontSize: 12, lineHeight: "11px", marginLeft: 1, position: "relative", top: 1 }}>
          <span>2</span>
          <span style={{ fontStyle: "italic" }}>r</span>
        </span>
        <span>: {value}</span>
      </div>
    </div>
  );
}

const FEV = (tag: string) => (
  <span>
    <i>F</i>
    <sub style={{ fontSize: 10, fontStyle: "italic", verticalAlign: "-3px" }}>EV</sub> ({tag})
  </span>
);

const LEGEND = [
  { color: "#ff0000", dash: "", w: 2, label: <span>Ellipsoidal model (EP) fit</span> },
  { color: "#17becf", dash: "1.5,1.5", w: 2, label: <span>Spherical model (SP) fit</span> },
  { color: "#0000ff", dash: "", w: 2.5, label: <span>Deformation contribution</span> },
  { color: "#a6c8e3", dash: "", w: 2.5, label: FEV("EP") },
  { color: "#ffcc9f", dash: "", w: 2.5, label: FEV("SP") },
];

export default function App() {
  return (
    <div style={{ position: "absolute", left: 0, top: 0, width: W, height: H, background: "#fff", overflow: "hidden" }}>
      {configs.map((m, i) => <ChartCanvas key={i} make={m} />)}
      <div style={{ position: "absolute", left: 96, width: 744, top: 4, textAlign: "center", fontFamily: FONT, fontSize: 14, lineHeight: "18px", color: "#222" }}>
        HST/WFC3 Phase-curve fit
      </div>
      <div style={{ position: "absolute", left: 855, width: 248, top: 5, textAlign: "center", fontFamily: FONT, fontSize: 14, lineHeight: "18px", color: "#222" }}>
        Transit fit
      </div>
      <div style={boxStyle(100, 32, 241, 116)}>
        {LEGEND.map((e, i) => (
          <div key={i} style={{ position: "absolute", left: 0, top: 1 + i * 21.7, height: 20, display: "flex", alignItems: "center", fontSize: 14.5, whiteSpace: "nowrap" }}>
            <svg width={48} height={8} style={{ flex: "none" }}>
              <line x1={4} y1={4} x2={36} y2={4} stroke={e.color} strokeWidth={e.w} strokeDasharray={e.dash || undefined} />
            </svg>
            {e.label}
          </div>
        ))}
      </div>
      <Chi l={103} t={320} color={CYAN} value="1.03" />
      <Chi l={703} t={464} color={RED} value="1.00" />
      <Chi l={863} t={408} color={CYAN} value="1.05" />
      <Chi l={863} t={552} color={RED} value="1.02" />
    </div>
  );
}
